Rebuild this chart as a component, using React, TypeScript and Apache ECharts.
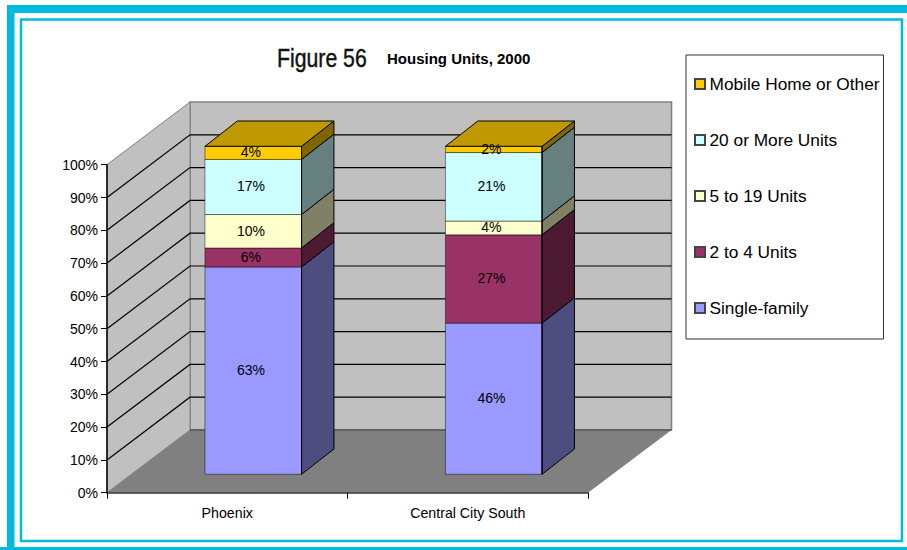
import React, { useEffect, useRef } from "react";
import * as echarts from "echarts";

const categories = ["Phoenix", "Central City South"];
const seriesNames = ["Single-family", "2 to 4 Units", "5 to 19 Units", "20 or More Units", "Mobile Home or Other"];
const singleFamily = [63.2, 46.1];
const twoToFour = [5.8, 26.9];
const fiveToNineteen = [10.2, 4.2];
const twentyOrMore = [16.8, 20.9];
const mobileHome = [4.0, 1.9];
const yTicks = [0, 10, 20, 30, 40, 50, 60, 70, 80, 90, 100];
const frontColors = ["#9999FF", "#993366", "#FFFFCC", "#CCFFFF", "#FFCC00"];
const sideColors = ["#4D4D80", "#4D1A33", "#808066", "#668080", "#806600"];
const topColor = "#C09900";

const W = 907, H = 550;
const GRID = { left: 107, top: 164.7, width: 481, height: 328 };
const DEPTH = { x: 83, y: -62.7 };
const BAR = { width: 96.6, dx: 26, dy: -18.4, depthX: 32.4, depthY: -25.3 };

const values = [singleFamily, twoToFour, fiveToNineteen, twentyOrMore, mobileHome];

function buildRows(s: number) {
  return categories.map((_, c) => {
    let base = 0;
    for (let i = 0; i < s; i++) base += values[i][c];
    return [c, base, base + values[s][c], values[s][c]];
  });
}

function renderWalls(params: any, api: any) {
  const cs = params.coordSys;
  const x0 = cs.x, x1 = cs.x + cs.width;
  const y0 = api.coord([0, 0])[1], y100 = api.coord([0, 100])[1];
  const bx0 = x0 + DEPTH.x, bx1 = x1 + DEPTH.x + 0.5;
  const wall = { fill: "#C0C0C0", stroke: "#808080", lineWidth: 1.6 };
  const children: any[] = [
    { type: "polygon", shape: { points: [[bx0, y0 + DEPTH.y], [bx1, y0 + DEPTH.y], [bx1, y100 + DEPTH.y], [bx0, y100 + DEPTH.y]] }, style: wall },
    { type: "polygon", shape: { points: [[x0, y0], [bx0, y0 + DEPTH.y], [bx0, y100 + DEPTH.y], [x0, y100]] }, style: { ...wall, lineWidth: 1 } },
    { type: "polygon", shape: { points: [[x0, y0], [x1, y0], [bx1, y0 + DEPTH.y], [bx0, y0 + DEPTH.y]] }, style: { fill: "#808080", stroke: "none" } },
    { type: "line", shape: { x1: bx0, y1: y0 + DEPTH.y, x2: bx1, y2: y0 + DEPTH.y }, style: { stroke: "#555555", lineWidth: 1.5 } },
  ];
  yTicks.slice(1, -1).forEach((t) => {
    const y = api.coord([0, t])[1];
    children.push({ type: "polyline", shape: { points: [[x0, y], [bx0, y + DEPTH.y], [bx1, y + DEPTH.y]] }, style: { stroke: "#000000", lineWidth: 1.2, fill: "none" } });
  });
  return { type: "group", children };
}

function makeRenderBar(s: number) {
  return (_params: any, api: any) => {
    const c = api.value(0);
    const cx = api.coord([c, 0])[0];
    const y0 = api.coord([c, api.value(1)])[1] + BAR.dy;
    const y1 = api.coord([c, api.value(2)])[1] + BAR.dy;
    const l = cx - BAR.width / 2 + BAR.dx;
    const r = l + BAR.width;
    const dx = BAR.depthX, dy = BAR.depthY;
    const children: any[] = [
      { type: "polygon", shape: { points: [[l, y0], [r, y0], [r, y1], [l, y1]] }, style: { fill: frontColors[s], stroke: "rgba(0,0,0,0.45)", lineWidth: 1 } },
      { type: "polygon", shape: { points: [[r, y0], [r + dx, y0 + dy], [r + dx, y1 + dy], [r, y1]] }, style: { fill: sideColors[s], stroke: "#000000", lineWidth: 1 } },
      { type: "line", shape: { x1: r, y1: y0, x2: r, y2: y1 }, style: { stroke: "#000000", lineWidth: 1 } },
    ];
    if (s === seriesNames.length - 1) {
      children.push({ type: "polygon", shape: { points: [[l, y1], [r, y1], [r + dx, y1 + dy], [l + dx, y1 + dy]] }, style: { fill: topColor, stroke: "#000000", lineWidth: 1 } });
    }
    children.push({
      type: "text",
      style: {
        x: (l + r) / 2 - 2.3,
        y: (y0 + y1) / 2 - 0.5,
        text: Math.round(api.value(3)) + "%",
        fill: "#000000",
        font: '14px "Liberation Sans"',
        align: "center",
        verticalAlign: "middle",
      },
    });
    return { type: "group", children };
  };
}

export default function App() {
  const ref = useRef<HTMLDivElement>(null);
  useEffect(() => {
    document.body.style.margin = "0";
    const chart = echarts.init(ref.current!, null, { renderer: "svg" });
    chart.setOption({
      animation: false,
      backgroundColor: "#FFFFFF",
      title: [
        { text: "Housing Units, 2000", left: 387, top: 51, padding: 0, textStyle: { fontFamily: "Liberation Sans", fontSize: 15, fontWeight: "bold", color: "#000000" } },
      ],
      legend: {
        orient: "vertical",
        left: 686,
        top: 55,
        data: [...seriesNames].reverse().map((n) => ({ name: n, icon: "rect" })),
        itemWidth: 10,
        itemHeight: 10,
        itemGap: 39,
        padding: [20.5, 4, 22.5, 8],
        borderColor: "#333333",
        borderWidth: 1,
        borderRadius: 0,
        backgroundColor: "#FFFFFF",
        formatter: (n: string) => n,
        textStyle: { fontFamily: "Liberation Sans", fontSize: 17.3, color: "#000000", padding: [0, 0, 0, -0.5] },
      },
      grid: { ...GRID, containLabel: false },
      xAxis: {
        type: "category",
        data: categories,
        z: 10,
        axisLine: { lineStyle: { color: "#333333", width: 1.5 } },
        axisTick: { show: true, alignWithLabel: false, length: 6, lineStyle: { color: "#000000" } },
        axisLabel: { fontFamily: "Liberation Sans", fontSize: 14.2, color: "#000000", margin: 13 },
      },
      yAxis: {
        type: "value",
        min: 0,
        max: 100,
        interval: 10,
        z: 10,
        splitLine: { show: false },
        axisLine: { show: true, lineStyle: { color: "#000000", width: 1.5 } },
        axisTick: { show: true, length: 6, lineStyle: { color: "#000000" } },
        axisLabel: { fontFamily: "Liberation Sans", fontSize: 14, color: "#000000", margin: 9, formatter: "{value}%" },
      },
      graphic: [
        { type: "rect", silent: true, z: -1, shape: { x: 7, y: 5, width: W + 10, height: 8 }, style: { fill: "#00BBDD" } },
        { type: "rect", silent: true, z: -1, shape: { x: 7, y: 5, width: 7.5, height: H }, style: { fill: "#00BBDD" } },
        { type: "rect", silent: true, z: -1, shape: { x: 0, y: 547, width: W, height: 3 }, style: { fill: "#00BBDD" } },
        { type: "rect", silent: true, z: -1, shape: { x: 21, y: 19.5, width: 881, height: 521.5 }, style: { fill: "none", stroke: "#00BBDD", lineWidth: 2.5 } },
        { type: "text", silent: true, x: 277, y: 58, scaleX: 0.85, style: { text: "Figure 56", fill: "#111111", stroke: "#111111", lineWidth: 0.4, font: '25px "Liberation Sans"', align: "left", verticalAlign: "middle" } },
      ],
      series: [
        { type: "custom", name: "walls", silent: true, z: 1, clip: false, data: [[0]], renderItem: renderWalls, encode: { x: 0 } },
        ...seriesNames.map((name, s) => ({
          type: "custom",
          name,
          z: 2 + s,
          clip: false,
          itemStyle: { color: frontColors[s], borderColor: "#444444", borderWidth: 1 },
          data: buildRows(s),
          encode: { x: 0, y: [1, 2] },
          renderItem: makeRenderBar(s),
        })),
      ],
    });
    return () => chart.dispose();
  }, []);
  return <div ref={ref} style={{ width: W, height: H, position: "absolute", left: 0, top: 0 }} />;
}
